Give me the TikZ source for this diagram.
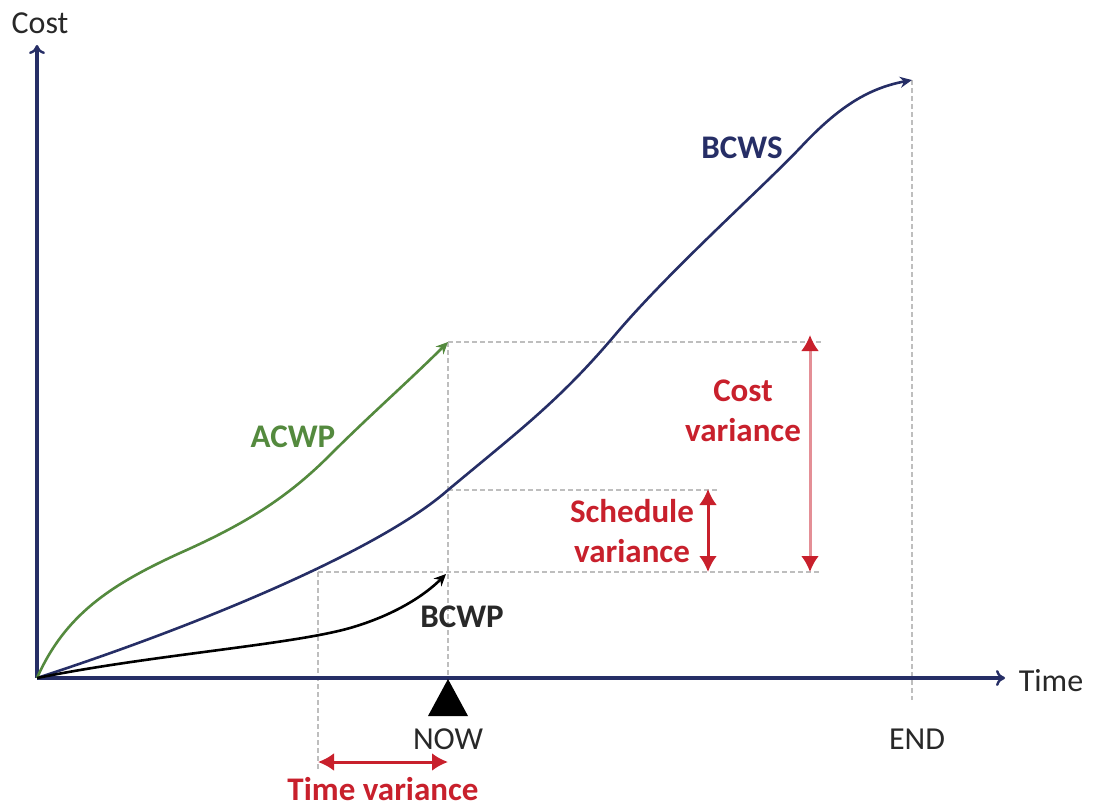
\documentclass[tikz,border=0pt]{standalone}
\usepackage{fontspec}
\setmainfont{Carlito}
\usetikzlibrary{arrows.meta}
\definecolor{navy}{RGB}{38,46,102}
\definecolor{accgreen}{RGB}{84,138,62}
\definecolor{varred}{RGB}{200,32,44}
\definecolor{dotgray}{RGB}{190,190,190}
\definecolor{labgray}{RGB}{40,40,40}
\begin{document}
\begin{tikzpicture}[x=0.5pt,y=-0.5pt,
  axis/.style={draw=navy,line width=1.8pt,-{To[length=4.5pt,width=8pt,line width=1.2pt]}},
  curve/.style={line width=1.3pt,-{Stealth[length=6pt,width=5.5pt]}},
  guide/.style={draw=dotgray,line width=1pt,dash pattern=on 2.5pt off 1.5pt},
  vararrow/.style={draw=varred,line width=1.5pt,{Latex[length=8pt,width=9pt,color=varred]}-{Latex[length=8pt,width=9pt,color=varred]}},
  axlab/.style={font=\fontsize{16}{18}\selectfont,text=labgray,inner sep=0pt},
  curvelab/.style={font=\bfseries\fontsize{16.5}{18}\selectfont,inner sep=0pt},
  varlab/.style={font=\bfseries\fontsize{16.5}{20}\selectfont,text=varred,align=center,inner sep=0pt}]
\useasboundingbox (0,0) rectangle (1093,809);
% coordinates
\coordinate (O) at (37,678);
\coordinate (ytop) at (37,45);
\coordinate (xend) at (1005,678);
\coordinate (wsend) at (912,80);
\coordinate (acend) at (448,342);
\coordinate (bpend) at (446,574);
\coordinate (wsnow) at (448,490);
\coordinate (wsearly) at (318,572);
% guides
\draw[guide] (acend) -- (448,678);
\draw[guide] (wsend) -- (912,700);
\draw[guide] (acend) -- (822,342);
\draw[guide] (wsnow) -- (718,490);
\draw[guide] (wsearly) -- (822,572);
\draw[guide] (wsearly) -- (318,772);
% axes
\draw[axis] (O) -- (ytop);
\draw[axis] (O) -- (xend);
\node[axlab] (cost) at (40,23) {Cost};
\node[axlab] (time) at (1051,681) {Time};
% curves
\draw[curve,draw=navy] (O) .. controls (200,625) and (380,550) .. (wsnow)
  .. controls (520,430) and (560,400) .. (615,335)
  .. controls (670,270) and (760,190) .. (800,148)
  .. controls (840,105) and (870,88) .. (wsend);
\draw[curve,draw=accgreen] (O) .. controls (65,615) and (110,585) .. (180,553)
  .. controls (250,522) and (290,495) .. (330,455)
  .. controls (370,415) and (410,380) .. (acend);
\draw[curve,draw=black] (O) .. controls (150,655) and (290,645) .. (350,628)
  .. controls (395,615) and (425,595) .. (bpend);
\node[curvelab,text=navy] (bcws) at (742,148) {BCWS};
\node[curvelab,text=accgreen] (acwp) at (293,437) {ACWP};
\node[curvelab,text=labgray] (bcwp) at (462,617) {BCWP};
% now marker
\fill[black] (448,679) -- (468,716) -- (428,716) -- cycle;
\node[axlab] (now) at (448,739) {NOW};
\node[axlab] (endl) at (917,739) {END};
% variances
\coordinate (tvl) at (318,762);
\coordinate (tvr) at (448,762);
\draw[vararrow] (tvl) -- (tvr);
\node[varlab] (tvlab) at (383,789) {Time variance};
\coordinate (cvt) at (810,335);
\coordinate (cvb) at (810,572);
\draw[vararrow,draw=varred!50] (cvt) -- (cvb);
\node[varlab] (cvlab) at (743,411) {Cost\\variance};
\coordinate (svt) at (708,489);
\coordinate (svb) at (708,572);
\draw[vararrow] (svt) -- (svb);
\node[varlab] (svlab) at (632,531) {Schedule\\variance};
\end{tikzpicture}
\end{document}
